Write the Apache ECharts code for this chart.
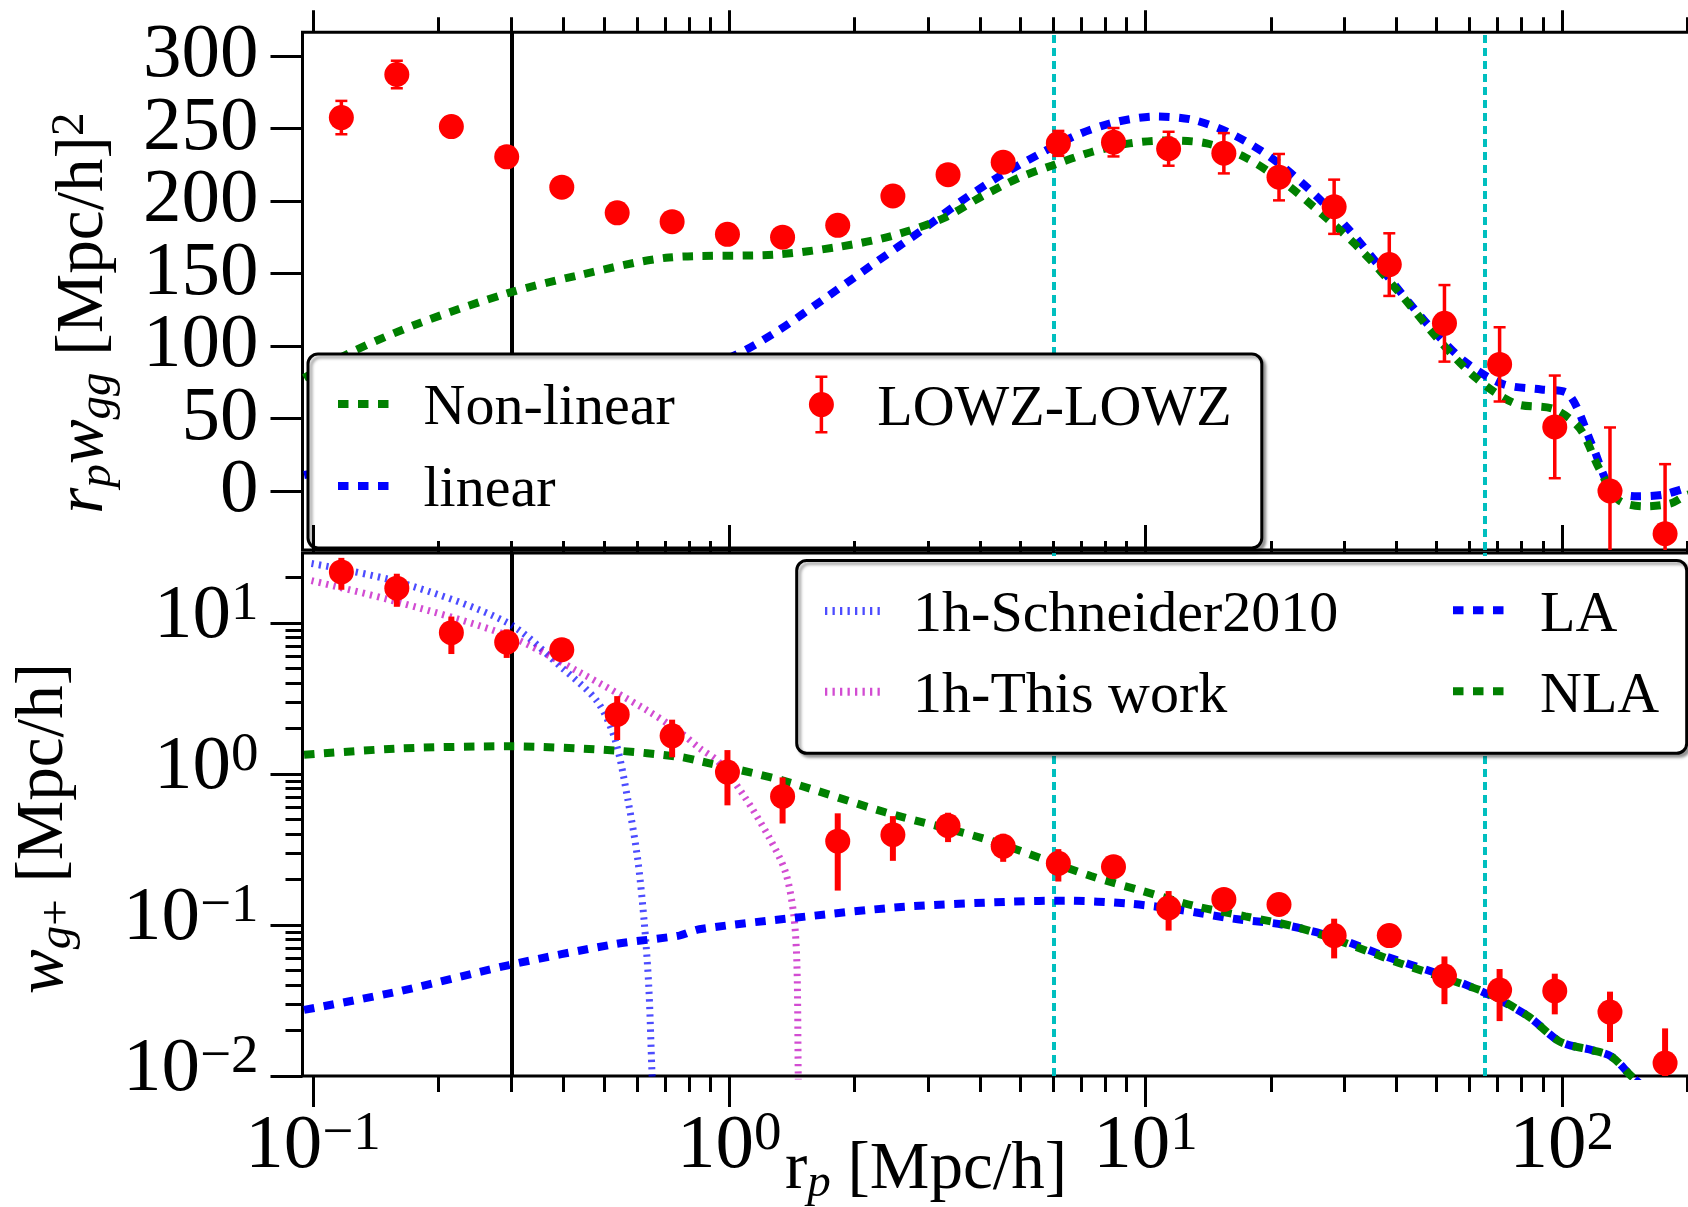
<!DOCTYPE html>
<html>
<head>
<meta charset="utf-8">
<script src="https://cdn.jsdelivr.net/npm/echarts@6/dist/echarts.min.js"></script>
<style>html,body{margin:0;padding:0;background:#fff}#c{width:1688px;height:1207px}</style>
</head>
<body>
<div id="c"></div>
<script>
// ---------------- data ----------------
const rp = [0.117, 0.159, 0.215, 0.292, 0.396, 0.538, 0.729, 0.990, 1.343, 1.822, 2.472, 3.354, 4.550, 6.173, 8.375, 11.36, 15.42, 20.92, 28.38, 38.50, 52.24, 70.87, 96.16, 130.5, 177.0];
const rpWgg = [257.5, 287.2, 251.3, 230.4, 209.5, 191.8, 185.7, 177, 175, 183.2, 203.4, 218.1, 226.7, 239.7, 240.5, 236, 232.9, 216.4, 196, 156.1, 115.6, 87.3, 44.2, 0, -29.5];
const rpWggErr = [11.5, 9.5, 5, 5, 5, 5, 5, 5, 5, 5, 5, 6, 6, 8.6, 9.8, 11.7, 13.9, 16, 18.7, 21.6, 26.4, 25.6, 35.4, 43.8, 48];
const wgPlus = [21.8, 17.0, 8.63, 7.47, 6.65, 2.48, 1.79, 1.03, 0.71, 0.359, 0.396, 0.454, 0.332, 0.256, 0.243, 0.1298, 0.1477, 0.1367, 0.0851, 0.0851, 0.0459, 0.0371, 0.0366, 0.0265, 0.01217];
const wgPlusErr = [5.2, 4.2, 2.4, 1.6, 0.8, 0.8, 0.5, 0.41, 0.24, 0.19, 0.13, 0.1, 0.07, 0.062, 0.03, 0.038, 0.02, 0.02, 0.025, 0.01, 0.016, 0.014, 0.011, 0.0097, 0.0085];

const nonLinX = [0.0952, 0.1239, 0.180, 0.294, 0.4355, 0.716, 1.293, 1.845, 2.45, 3.263, 4.035, 5.0, 5.97, 7.39, 9.15, 11.33, 14.02, 17.37, 21.5, 26.6, 32.95, 40.8, 50.5, 62.5, 77.4, 95.7, 110.5, 122.7, 136.8, 157.4, 182, 201, 218];
const nonLinY = [78, 95.9, 115.7, 136.4, 148.8, 161, 163, 168.5, 175.8, 188, 203, 216.4, 224.5, 233.6, 239.7, 241.7, 239.7, 230, 212.8, 190.7, 166, 136.4, 104.6, 77.4, 60.2, 56.5, 43, 15.9, -6.2, -10.6, -8.7, -2.5, -1];
const linX = [0.0952, 0.2, 0.4, 0.7, 1.008, 1.293, 1.719, 2.206, 2.931, 3.63, 4.49, 5.56, 6.89, 8.51, 10.55, 13.06, 16.18, 20.0, 24.77, 30.7, 37.95, 47.0, 58.2, 72.1, 89.2, 102.8, 118.6, 131.8, 152.2, 175.4, 201, 218];
const linY = [11, 30, 55, 78, 92.3, 109.5, 134, 156, 180.7, 200.4, 217.6, 232.4, 245.9, 254.5, 258.2, 255.8, 245.9, 230, 207.8, 180.7, 148.8, 116.8, 89.7, 73.7, 70, 67.6, 30.7, 1.2, -3.7, -2.5, 2.4, 4];

const nlaX = [0.0952, 0.1626, 0.294, 0.532, 0.758, 0.847, 1.34, 2.37, 4.18, 7.39, 9.82, 13.06, 17.37, 23.07, 30.7, 40.8, 54.2, 67.1, 83.1, 99.3, 118.6, 131.8, 146.8, 170];
const nlaY = [1.34, 1.477, 1.525, 1.43, 1.30, 1.22, 0.908, 0.558, 0.366, 0.211, 0.168, 0.134, 0.114, 0.0968, 0.0747, 0.0558, 0.0431, 0.0348, 0.0248, 0.0168, 0.0148, 0.0134, 0.01, 0.007];
const laX = [0.0952, 0.1626, 0.294, 0.532, 0.758, 0.847, 1.44, 2.635, 4.82, 6.41, 9.15, 12.16, 16.18, 21.5, 28.6, 37.95, 50.5, 67.1, 83.1, 99.3, 118.6, 131.8, 146.8, 170];
const laY = [0.0274, 0.0366, 0.0541, 0.0747, 0.0851, 0.0937, 0.1117, 0.132, 0.1429, 0.1448, 0.1384, 0.1257, 0.1103, 0.1002, 0.0824, 0.0616, 0.0474, 0.0343, 0.0248, 0.0168, 0.0148, 0.0134, 0.01, 0.007];
const schX = [0.0992, 0.1626, 0.294, 0.3957, 0.482, 0.532, 0.573, 0.6026, 0.625, 0.6407, 0.652, 0.658];
const schY = [24.8, 18.5, 10, 5.07, 3.02, 1.68, 0.636, 0.273, 0.1034, 0.0391, 0.0107, 0.006];
const thisX = [0.0992, 0.1626, 0.294, 0.4355, 0.633, 0.758, 0.85, 0.939, 1.082, 1.248, 1.364, 1.428, 1.454, 1.464, 1.468];
const thisY = [19.1, 13.6, 8.24, 4.74, 2.65, 1.91, 1.477, 1.216, 0.724, 0.378, 0.225, 0.1178, 0.0541, 0.0107, 0.006];

const blackLineX = [0.3];
const cyanLineX = [6.03, 65.3];

const xMajorTicks = [0.1, 1, 10, 100];
const xMinorTicks = [0.2, 0.3, 0.4, 0.5, 0.6, 0.7, 0.8, 0.9, 2, 3, 4, 5, 6, 7, 8, 9, 20, 30, 40, 50, 60, 70, 80, 90, 200];
const yTopTicks = [0, 50, 100, 150, 200, 250, 300];
const yBotMajor = [0.01, 0.1, 1, 10];
const yBotMinor = [0.02, 0.03, 0.04, 0.05, 0.06, 0.07, 0.08, 0.09, 0.2, 0.3, 0.4, 0.5, 0.6, 0.7, 0.8, 0.9, 2, 3, 4, 5, 6, 7, 8, 9, 20];

// ---------------- helpers ----------------
const FONT = 'Liberation Serif';
const X_MIN = 0.09437, X_MAX = 217.7;
const Y_TOP_MIN = -40.7, Y_TOP_MAX = 316.3;
const zip = (xs, ys) => xs.map((x, i) => [x, ys[i]]);
const zip3 = (xs, ys, es) => xs.map((x, i) => [x, ys[i], es[i]]);
// split the top-panel ticks into two interleaved sets so the large labels are not auto-hidden
const yTopTicksA = yTopTicks.filter((v, i) => i % 2 === 0);
const yTopTicksB = yTopTicks.filter((v, i) => i % 2 === 1);

function pow10Label(v) {
  const e = Math.round(Math.log10(v));
  return '{b|10}{s|' + (e < 0 ? '\u2212' + (-e) : String(e)) + '}';
}
const tickRich = {
  b: { fontFamily: FONT, fontSize: 77, lineHeight: 80, color: '#000' },
  s: { fontFamily: FONT, fontSize: 55, lineHeight: 58, verticalAlign: 'top', color: '#000' }
};
const titleRich = {
  n: { fontFamily: FONT, fontSize: 67, lineHeight: 74, color: '#000' },
  i: { fontFamily: FONT, fontStyle: 'italic', fontSize: 67, lineHeight: 74, color: '#000' },
  isub: { fontFamily: FONT, fontStyle: 'italic', fontSize: 47, lineHeight: 42, verticalAlign: 'bottom', color: '#000' },
  sub: { fontFamily: FONT, fontSize: 47, lineHeight: 42, verticalAlign: 'bottom', color: '#000' },
  sup: { fontFamily: FONT, fontSize: 47, lineHeight: 42, verticalAlign: 'top', color: '#000' }
};

function xAxisDef(gridIndex, position, ticks, len, z) {
  return {
    type: 'log', logBase: 10, gridIndex, position, min: X_MIN, max: X_MAX, z,
    axisLine: { show: false, onZero: false }, splitLine: { show: false },
    minorTick: { show: false }, minorSplitLine: { show: false },
    axisTick: { show: true, inside: false, length: len, customValues: ticks, lineStyle: { color: '#000', width: 3 } },
    axisLabel: { show: false }
  };
}

function topYAxis(ticks) {
  return {
    type: 'value', gridIndex: 0, position: 'left', min: Y_TOP_MIN, max: Y_TOP_MAX,
    axisLine: { show: false, onZero: false }, splitLine: { show: false },
    axisTick: { show: true, inside: false, length: 32, customValues: ticks, lineStyle: { color: '#000', width: 3 } },
    axisLabel: { show: true, customValues: ticks, margin: 44, fontFamily: FONT, fontSize: 77, lineHeight: 48, color: '#000', padding: [0, 0, 14, 0], showMinLabel: true, showMaxLabel: true, hideOverlap: false }
  };
}

function errRender(isLog, barW, capW, r) {
  return function (params, api) {
    const x = api.value(0), y = api.value(1), e = api.value(2);
    const cs = params.coordSys;
    const c = api.coord([x, y]);
    let top = api.coord([x, y + e])[1];
    const lowV = y - e;
    let bot = (!isLog || lowV > 0) ? api.coord([x, lowV])[1] : cs.y + cs.height;
    top = Math.max(top, cs.y);
    bot = Math.min(bot, cs.y + cs.height);
    const children = [
      { type: 'line', shape: { x1: c[0], y1: top, x2: c[0], y2: bot }, style: { stroke: '#ff0000', lineWidth: barW } }
    ];
    if (capW > 0) {
      if (top > cs.y) children.push({ type: 'line', shape: { x1: c[0] - capW / 2, y1: top, x2: c[0] + capW / 2, y2: top }, style: { stroke: '#ff0000', lineWidth: 2.5 } });
      if (bot < cs.y + cs.height) children.push({ type: 'line', shape: { x1: c[0] - capW / 2, y1: bot, x2: c[0] + capW / 2, y2: bot }, style: { stroke: '#ff0000', lineWidth: 2.5 } });
    }
    children.push({ type: 'circle', shape: { cx: c[0], cy: c[1], r }, style: { fill: '#ff0000' } });
    return { type: 'group', children };
  };
}

const thickDots = 'path://M0,0h10.5v8h-10.5zM20,0h10.5v8h-10.5zM40,0h10.5v8h-10.5z';
const thinDots = 'path://M0,0h2.3v8h-2.3zM7.5,0h2.3v8h-2.3zM15,0h2.3v8h-2.3zM22.5,0h2.3v8h-2.3zM30,0h2.3v8h-2.3zM37.5,0h2.3v8h-2.3zM45,0h2.3v8h-2.3zM52.5,0h2.3v8h-2.3z';
const pointIcon = 'path://M-12.5,0a12.5,12.5 0 1,1 25,0a12.5,12.5 0 1,1 -25,0zM-1.75,-29h3.5v17.5h-3.5zM-1.75,11.5h3.5v17.5h-3.5zM-6,-29h12v2.5h-12zM-6,26.5h12v2.5h-12z';

function legendDef(left, top, gap, iw, ih, spacer, items) {
  return {
    left, top, orient: 'vertical', itemGap: gap, padding: 0, itemWidth: iw, itemHeight: ih, z: 20,
    selectedMode: false,
    itemStyle: { borderWidth: 0 },
    formatter: (name) => '{g| }{t|' + name + '}',
    textStyle: {
      rich: {
        g: { width: spacer, fontSize: 58, fontFamily: FONT, lineHeight: 70 },
        t: { fontSize: 58, fontFamily: FONT, color: '#000', lineHeight: 60, padding: [10, 0, 0, 0] }
      }
    },
    data: items
  };
}

const vLines = (z) => ({
  silent: true, symbol: ['none', 'none'], label: { show: false }, z,
  emphasis: { disabled: true },
  data: blackLineX.map(v => ({ xAxis: v, lineStyle: { color: '#000', width: 4, type: 'solid' } }))
    .concat(cyanLineX.map(v => ({ xAxis: v, lineStyle: { color: '#00bfbf', width: 4, type: [8, 5] } })))
});

const thick = (color) => ({ color, width: 8, type: [10.5, 9.5], cap: 'butt' });
const thin = (color) => ({ color, width: 7, type: [2.3, 5.2], cap: 'butt' });

const option = {
  animation: false,
  backgroundColor: '#fff',
  grid: [
    { left: 302.5, top: 32.3, width: 1400, height: 517.7, show: true, borderColor: '#000', borderWidth: 3, backgroundColor: 'rgba(0,0,0,0)', containLabel: false, outerBoundsMode: 'none' },
    { left: 302.5, top: 553, width: 1400, height: 523, show: true, borderColor: '#000', borderWidth: 3, backgroundColor: 'rgba(0,0,0,0)', containLabel: false, outerBoundsMode: 'none' }
  ],
  xAxis: [
    xAxisDef(0, 'top', xMajorTicks, 22, 3),
    xAxisDef(0, 'top', xMinorTicks, 15, 3),
    Object.assign(xAxisDef(1, 'bottom', xMajorTicks, 31, 3), {
      axisLabel: { show: true, customValues: xMajorTicks, formatter: pow10Label, margin: 31, rich: tickRich, showMinLabel: true, showMaxLabel: true, hideOverlap: false },
      name: '{n|r}{isub|p}{n| [Mpc/h]}', nameLocation: 'middle', nameGap: 57, nameMoveOverlap: false,
      nameTextStyle: { padding: [0, 153, 0, 0], rich: titleRich }
    }),
    xAxisDef(1, 'bottom', xMinorTicks, 16, 3),
    xAxisDef(1, 'top', xMajorTicks, 28, 16),
    xAxisDef(1, 'top', xMinorTicks, 12, 16)
  ],
  yAxis: [
    Object.assign(topYAxis(yTopTicksA), {
      name: '{i|r}{isub|p}{i|w}{isub|gg}{n| [Mpc/h]}{sup|2}', nameLocation: 'middle', nameGap: 181, nameMoveOverlap: false,
      nameTextStyle: { padding: [0, 44, 0, 0], rich: titleRich }
    }),
    {
      type: 'log', logBase: 10, gridIndex: 1, position: 'left', min: 0.01, max: 29.08,
      axisLine: { show: false, onZero: false }, splitLine: { show: false }, minorTick: { show: false },
      axisTick: { show: true, inside: false, length: 32, customValues: yBotMajor, lineStyle: { color: '#000', width: 3 } },
      axisLabel: { show: true, customValues: yBotMajor, formatter: pow10Label, margin: 44, rich: tickRich, padding: [0, 0, 12, 0], showMinLabel: true, showMaxLabel: true, hideOverlap: false },
      name: '{i|w}{isub|g}{sub|+}{n| [Mpc/h]}', nameLocation: 'middle', nameGap: 221, nameMoveOverlap: false,
      nameTextStyle: { padding: [0, 28, 0, 0], rich: titleRich }
    },
    {
      type: 'log', logBase: 10, gridIndex: 1, position: 'left', min: 0.01, max: 29.08,
      axisLine: { show: false, onZero: false }, splitLine: { show: false }, minorTick: { show: false },
      axisTick: { show: true, inside: false, length: 17, customValues: yBotMinor, lineStyle: { color: '#000', width: 3 } },
      axisLabel: { show: false }
    },
    topYAxis(yTopTicksB)
  ],
  legend: [
    legendDef(338, 370, 14, 50.5, 8, 30, [
      { name: 'Non-linear', icon: thickDots, itemStyle: { color: '#008000', borderWidth: 0 } },
      { name: 'linear', icon: thickDots, itemStyle: { color: '#0000ff', borderWidth: 0 } }
    ]),
    legendDef(808.9, 370.6, 14, 25, 58, 38.4, [
      { name: 'LOWZ-LOWZ', icon: pointIcon, itemStyle: { color: '#ff0000', borderWidth: 0 } }
    ]),
    legendDef(825, 577, 12.7, 54.8, 8, 28.3, [
      { name: '1h-Schneider2010', icon: thinDots, itemStyle: { color: 'rgba(0,0,255,0.7)', borderWidth: 0 } },
      { name: '1h-This work', icon: thinDots, itemStyle: { color: 'rgba(191,0,191,0.7)', borderWidth: 0 } }
    ]),
    legendDef(1453, 576.3, 13, 50.5, 8, 31.5, [
      { name: 'LA', icon: thickDots, itemStyle: { color: '#0000ff', borderWidth: 0 } },
      { name: 'NLA', icon: thickDots, itemStyle: { color: '#008000', borderWidth: 0 } }
    ])
  ],
  graphic: {
    elements: [
      { type: 'rect', z: 15, silent: true, shape: { x: 308, y: 354, width: 953.8, height: 194, r: 10 },
        style: { fill: '#fff', stroke: '#000', lineWidth: 3, shadowBlur: 3, shadowOffsetX: 3, shadowOffsetY: 3, shadowColor: 'rgba(0,0,0,0.35)' } },
      { type: 'rect', z: 15, silent: true, shape: { x: 796.7, y: 560.5, width: 890, height: 192.8, r: 10 },
        style: { fill: '#fff', stroke: '#000', lineWidth: 3, shadowBlur: 3, shadowOffsetX: 3, shadowOffsetY: 3, shadowColor: 'rgba(0,0,0,0.35)' } }
    ]
  },
  series: [
    // ---- top panel ----
    { type: 'line', name: 'linear', xAxisIndex: 0, yAxisIndex: 0, data: zip(linX, linY), smooth: 0.3, symbol: 'none',
      color: '#0000ff', lineStyle: thick('#0000ff'), z: 2, markLine: vLines(1) },
    { type: 'line', name: 'Non-linear', xAxisIndex: 0, yAxisIndex: 0, data: zip(nonLinX, nonLinY), smooth: 0.3, symbol: 'none',
      color: '#008000', lineStyle: thick('#008000'), z: 2 },
    { type: 'custom', name: 'LOWZ-LOWZ', xAxisIndex: 0, yAxisIndex: 0, data: zip3(rp, rpWgg, rpWggErr),
      color: '#ff0000', renderItem: errRender(false, 3.5, 12, 12.5), z: 4 },
    // ---- bottom panel ----
    { type: 'line', name: '1h-Schneider2010', xAxisIndex: 2, yAxisIndex: 1, data: zip(schX, schY), smooth: 0.3, symbol: 'none',
      color: 'rgba(0,0,255,0.7)', lineStyle: thin('rgba(0,0,255,0.7)'), z: 2, markLine: vLines(1) },
    { type: 'line', name: '1h-This work', xAxisIndex: 2, yAxisIndex: 1, data: zip(thisX, thisY), smooth: 0.3, symbol: 'none',
      color: 'rgba(191,0,191,0.7)', lineStyle: thin('rgba(191,0,191,0.7)'), z: 2 },
    { type: 'line', name: 'LA', xAxisIndex: 2, yAxisIndex: 1, data: zip(laX, laY), smooth: 0.3, symbol: 'none',
      color: '#0000ff', lineStyle: thick('#0000ff'), z: 2 },
    { type: 'line', name: 'NLA', xAxisIndex: 2, yAxisIndex: 1, data: zip(nlaX, nlaY), smooth: 0.3, symbol: 'none',
      color: '#008000', lineStyle: thick('#008000'), z: 2 },
    { type: 'custom', name: 'LOWZ-LOWZ', xAxisIndex: 2, yAxisIndex: 1, data: zip3(rp, wgPlus, wgPlusErr),
      color: '#ff0000', renderItem: errRender(true, 6, 0, 12.5), z: 4 }
  ]
};

const chart = echarts.init(document.getElementById('c'), null, { renderer: 'canvas' });
chart.setOption(option);
</script>
</body>
</html>
